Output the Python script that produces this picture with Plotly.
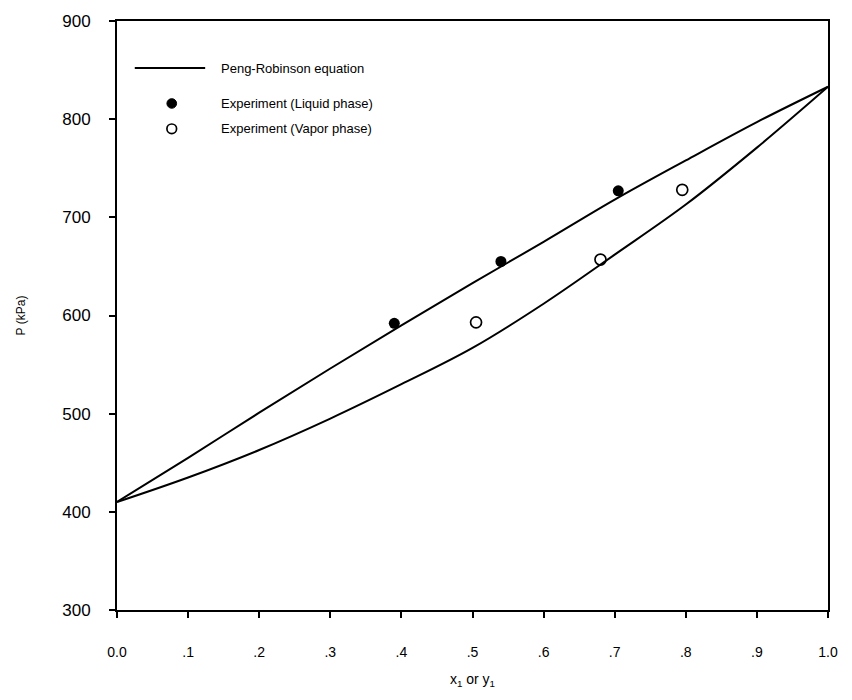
import plotly.graph_objects as go

# Peng-Robinson calculated curves
pr_x = [0.0, 0.1, 0.2, 0.3, 0.4, 0.5, 0.6, 0.7, 0.8, 0.9, 1.0]
pr_bubble_P = [410, 455, 501, 546, 590, 633, 675, 718, 758, 797, 833]
pr_dew_P = [410, 435, 463, 495, 530, 567, 612, 662, 713, 771, 833]

# Experimental data
liq_x = [0.39, 0.54, 0.705]
liq_P = [592, 655, 727]
vap_y = [0.505, 0.68, 0.795]
vap_P = [593, 657, 728]

x_tickvals = [0.0, 0.1, 0.2, 0.3, 0.4, 0.5, 0.6, 0.7, 0.8, 0.9, 1.0]
x_ticktext = ["0.0", ".1", ".2", ".3", ".4", ".5", ".6", ".7", ".8", ".9", "1.0"]
y_tickvals = [300, 400, 500, 600, 700, 800, 900]

legend_labels = ["Peng-Robinson equation", "Experiment (Liquid phase)", "Experiment (Vapor phase)"]

FONT = "Liberation Sans, Arial, sans-serif"

fig = go.Figure()
fig.add_trace(go.Scatter(x=pr_x, y=pr_bubble_P, mode="lines",
                         line=dict(color="black", width=2, shape="spline", smoothing=1.0),
                         showlegend=False, hoverinfo="skip"))
fig.add_trace(go.Scatter(x=pr_x, y=pr_dew_P, mode="lines",
                         line=dict(color="black", width=2, shape="spline", smoothing=1.0),
                         showlegend=False, hoverinfo="skip"))
fig.add_trace(go.Scatter(x=liq_x, y=liq_P, mode="markers",
                         marker=dict(symbol="circle", size=11, color="black"),
                         showlegend=False))
fig.add_trace(go.Scatter(x=vap_y, y=vap_P, mode="markers",
                         marker=dict(symbol="circle-open", size=11, color="black",
                                     line=dict(width=1.7, color="black")),
                         showlegend=False))

# manual legend (paper coordinates)
lx0, lx1, mx, tx = 0.025, 0.124, 0.077, 0.143
ly = [0.92, 0.86, 0.817]
fig.add_shape(type="line", xref="paper", yref="paper", x0=lx0, x1=lx1, y0=ly[0], y1=ly[0],
              line=dict(color="black", width=2))
r = 0.0068
ry = r * 711 / 595
fig.add_shape(type="circle", xref="paper", yref="paper", x0=mx - r, x1=mx + r,
              y0=ly[1] - ry, y1=ly[1] + ry, fillcolor="black", line=dict(color="black", width=1))
fig.add_shape(type="circle", xref="paper", yref="paper", x0=mx - r, x1=mx + r,
              y0=ly[2] - ry, y1=ly[2] + ry, fillcolor="white", line=dict(color="black", width=1.7))
for lab, yy in zip(legend_labels, ly):
    fig.add_annotation(x=tx, y=yy, xref="paper", yref="paper", text=lab, showarrow=False,
                       xanchor="left", yanchor="middle", font=dict(family=FONT, size=13, color="black"))

fig.update_layout(
    width=852, height=700,
    margin=dict(l=117, r=24, t=15, b=90),
    paper_bgcolor="white", plot_bgcolor="white",
    font=dict(family=FONT, size=13, color="black"),
    showlegend=False,
)
fig.update_xaxes(range=[0, 1.0], tickvals=x_tickvals, ticktext=x_ticktext,
                 showgrid=False, zeroline=False, showline=True, linecolor="black", linewidth=2,
                 mirror=True, ticks="outside", ticklen=6, tickwidth=1.5, tickcolor="black",
                 ticklabelstandoff=22, tickfont=dict(family=FONT, size=14),
                 title=dict(text="x<sub>1</sub> or y<sub>1</sub>", standoff=15,
                            font=dict(family=FONT, size=14)))
fig.update_yaxes(range=[300, 900], tickvals=y_tickvals,
                 showgrid=False, zeroline=False, showline=True, linecolor="black", linewidth=2,
                 mirror=True, ticks="outside", ticklen=6, tickwidth=1.5, tickcolor="black",
                 ticklabelstandoff=15, tickfont=dict(family=FONT, size=17),
                 title=dict(text="P (kPa)", standoff=34, font=dict(family=FONT, size=12)))

fig.write_html("out.html")
